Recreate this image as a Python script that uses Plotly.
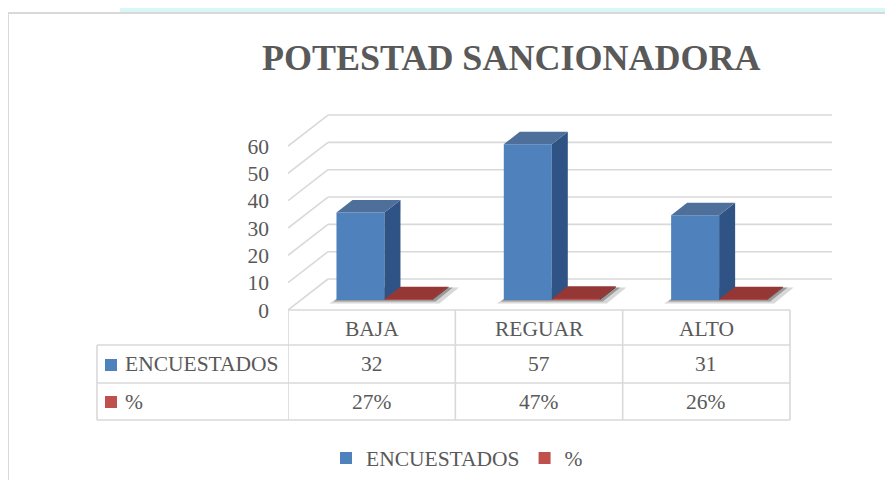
import plotly.graph_objects as go

# ---------------- data ----------------
categories = ["BAJA", "REGUAR", "ALTO"]
encuestados = [32, 57, 31]
porcentaje = [0.27, 0.47, 0.26]
y_ticks = [0, 10, 20, 30, 40, 50, 60]
series_names = ["ENCUESTADOS", "%"]
title_text = "POTESTAD SANCIONADORA"

# ---------------- geometry / style ----------------
WIN_W, WIN_H = 893, 488
OFF = 8                                # default page margin around the figure
W, H = WIN_W - 2 * OFF, WIN_H - 2 * OFF
FONT = "Liberation Serif, Times New Roman, DejaVu Serif, serif"
TXT = "#595959"
GRID = "#d9d9d9"
BLUE, BLUE_SIDE, BLUE_TOP = "#4f81bd", "#2f5384", "#4f6f9b"
RED, RED_SIDE, RED_TOP = "#c0504d", "#6e2523", "#953735"

X0_PX, X1_PX = 288, 790          # front floor edge (window px), x = -0.5 .. 2.5
PX_PER_X = (X1_PX - X0_PX) / len(categories)
Y0_PX = 310                       # front floor, value 0 (window px)
PX_PER_Y = 2.733
XR = [-0.5, 2.8]
YR = [0, 75]


def ux(px):
    return px / PX_PER_X


def uy(px):
    return px / PX_PER_Y


def pxx(px):
    return (px - OFF) / W


def pxy(py):
    return (H - (py - OFF)) / H


dom_x = [pxx(X0_PX), pxx(X0_PX + (XR[1] - XR[0]) * PX_PER_X)]
dom_y = [pxy(Y0_PX), pxy(Y0_PX - YR[1] * PX_PER_Y)]

WALL_DX, WALL_DY = ux(40), uy(31)     # depth of the 3D box
BAR_SX, BAR_SY = ux(12.8), uy(10)     # bar front plane shift
BAR_DX, BAR_DY = ux(16), uy(12.5)     # bar depth
BAR_W = ux(48)

fig = go.Figure()

# front faces through plotly bars
xpos = [i + BAR_SX for i in range(len(categories))]
fig.add_trace(go.Bar(x=xpos, y=encuestados, base=BAR_SY, name=series_names[0],
                     marker=dict(color=BLUE, line=dict(width=0))))
fig.add_trace(go.Bar(x=xpos, y=porcentaje, base=BAR_SY, name=series_names[1],
                     marker=dict(color=RED, line=dict(width=0))))


def faces(xl, xr, v, side_col, top_col):
    b = BAR_SY
    t = b + v
    fig.add_trace(go.Scatter(
        x=[xr, xr, xr + BAR_DX, xr + BAR_DX, xr],
        y=[b, t, t + BAR_DY, b + BAR_DY, b],
        fill="toself", fillcolor=side_col, mode="lines", line=dict(width=0),
        showlegend=False, hoverinfo="skip"))
    fig.add_trace(go.Scatter(
        x=[xl, xr, xr + BAR_DX, xl + BAR_DX, xl],
        y=[t, t, t + BAR_DY, t + BAR_DY, t],
        fill="toself", fillcolor=top_col, mode="lines", line=dict(width=0),
        showlegend=False, hoverinfo="skip"))


for i, v in enumerate(encuestados):
    faces(xpos[i] - BAR_W, xpos[i], v, BLUE_SIDE, BLUE_TOP)
for i, v in enumerate(porcentaje):
    faces(xpos[i], xpos[i] + BAR_W, v, RED_SIDE, RED_TOP)

shapes = []
# top background strip and chart border
shapes.append(dict(type="rect", xref="paper", yref="paper", x0=pxx(120), x1=pxx(WIN_W + 20),
                   y0=pxy(13), y1=pxy(-10),
                   fillcolor="#d8f8f8", line=dict(width=0), layer="below"))
shapes.append(dict(type="rect", xref="paper", yref="paper", x0=pxx(8), x1=pxx(WIN_W + 20),
                   y0=pxy(13), y1=pxy(WIN_H + 20),
                   fillcolor="white", line=dict(color=GRID, width=2), layer="below"))

# back wall gridlines and left wall diagonals
for v in y_ticks:
    shapes.append(dict(type="line", xref="x", yref="y", x0=-0.5 + WALL_DX, x1=2.5 + WALL_DX + ux(2),
                       y0=v + WALL_DY, y1=v + WALL_DY, line=dict(color=GRID, width=1.6), layer="below"))
    shapes.append(dict(type="line", xref="x", yref="y", x0=-0.5, x1=-0.5 + WALL_DX,
                       y0=v, y1=v + WALL_DY, line=dict(color=GRID, width=1.6), layer="below"))

# soft floor shadows under each cluster
for i in range(len(categories)):
    xl = xpos[i] - BAR_W
    xr = xpos[i] + BAR_W
    b = BAR_SY
    for grow, alpha in ((7, 0.18), (3, 0.35)):
        p = (f"M {xl - ux(grow)},{b - uy(grow * 0.5)} L {xr + ux(grow)},{b - uy(grow * 0.5)} "
             f"L {xr + BAR_DX + ux(grow * 1.5)},{b + BAR_DY} L {xl + BAR_DX},{b + BAR_DY} Z")
        shapes.append(dict(type="path", xref="x", yref="y", path=p,
                           fillcolor=f"rgba(40,40,40,{alpha})", line=dict(width=0), layer="below"))

# data table
T_TOP, T_R1, T_R2, T_BOT = 310, 345, 383, 420
T_LEFT = 97
for k in range(len(categories) + 1):
    shapes.append(dict(type="line", xref="x", yref="paper", x0=-0.5 + k, x1=-0.5 + k,
                       y0=pxy(T_TOP), y1=pxy(T_BOT), line=dict(color=GRID, width=1.6)))
shapes.append(dict(type="line", xref="x", yref="paper", x0=-0.5, x1=2.5,
                   y0=pxy(T_TOP), y1=pxy(T_TOP), line=dict(color=GRID, width=1.6)))
for yy in (T_R1, T_R2, T_BOT):
    shapes.append(dict(type="line", xref="paper", yref="paper", x0=pxx(T_LEFT), x1=pxx(X1_PX),
                       y0=pxy(yy), y1=pxy(yy), line=dict(color=GRID, width=1.6)))
shapes.append(dict(type="line", xref="paper", yref="paper", x0=pxx(T_LEFT), x1=pxx(T_LEFT),
                   y0=pxy(T_R1), y1=pxy(T_BOT), line=dict(color=GRID, width=1.6)))
# legend keys in table
for (y0, y1), col in (((359, 371), BLUE), ((396, 408), RED)):
    shapes.append(dict(type="rect", xref="paper", yref="paper", x0=pxx(105), x1=pxx(117),
                       y0=pxy(y1), y1=pxy(y0), fillcolor=col, line=dict(width=0)))

annotations = []
tfont = dict(family=FONT, size=21.5, color=TXT)
for i, c in enumerate(categories):
    annotations.append(dict(x=i, y=pxy((T_TOP + T_R1) / 2 + 1), xref="x", yref="paper", text=c,
                            showarrow=False, font=tfont, xanchor="center", yanchor="middle"))
    annotations.append(dict(x=i, y=pxy((T_R1 + T_R2) / 2), xref="x", yref="paper", text=str(encuestados[i]),
                            showarrow=False, font=tfont, xanchor="center", yanchor="middle"))
    annotations.append(dict(x=i, y=pxy((T_R2 + T_BOT) / 2), xref="x", yref="paper",
                            text=f"{porcentaje[i]:.0%}", showarrow=False, font=tfont,
                            xanchor="center", yanchor="middle"))
for name, yy in zip(series_names, ((T_R1 + T_R2) / 2, (T_R2 + T_BOT) / 2)):
    annotations.append(dict(x=pxx(123), y=pxy(yy), xref="paper", yref="paper", text=name,
                            showarrow=False, font=tfont, xanchor="left", yanchor="middle"))
annotations.append(dict(x=pxx(511), y=pxy(58), xref="paper", yref="paper", text=f"<b>{title_text}</b>",
                        showarrow=False, font=dict(family=FONT, size=36, color=TXT),
                        xanchor="center", yanchor="middle"))

fig.update_layout(
    width=W, height=H, autosize=False,
    margin=dict(l=0, r=0, t=0, b=0, pad=0, autoexpand=False),
    paper_bgcolor="white", plot_bgcolor="rgba(0,0,0,0)",
    barmode="group", bargap=1 - 2 * BAR_W, bargroupgap=0,
    shapes=shapes, annotations=annotations,
    showlegend=True,
    legend=dict(orientation="h", x=pxx(457), y=pxy(458), xanchor="center", yanchor="middle",
                font=dict(family=FONT, size=21.5, color=TXT), bgcolor="rgba(0,0,0,0)",
                itemwidth=30, traceorder="normal"),
    xaxis=dict(domain=dom_x, range=XR, visible=False, fixedrange=True, automargin=False),
    yaxis=dict(domain=dom_y, range=YR, tickvals=y_ticks, showgrid=False, zeroline=False,
               showline=False, ticks="", ticklabelstandoff=18, automargin=False,
               tickfont=dict(family=FONT, size=21.5, color=TXT), fixedrange=True),
)

fig.write_html("out.html", config={"displayModeBar": False})
